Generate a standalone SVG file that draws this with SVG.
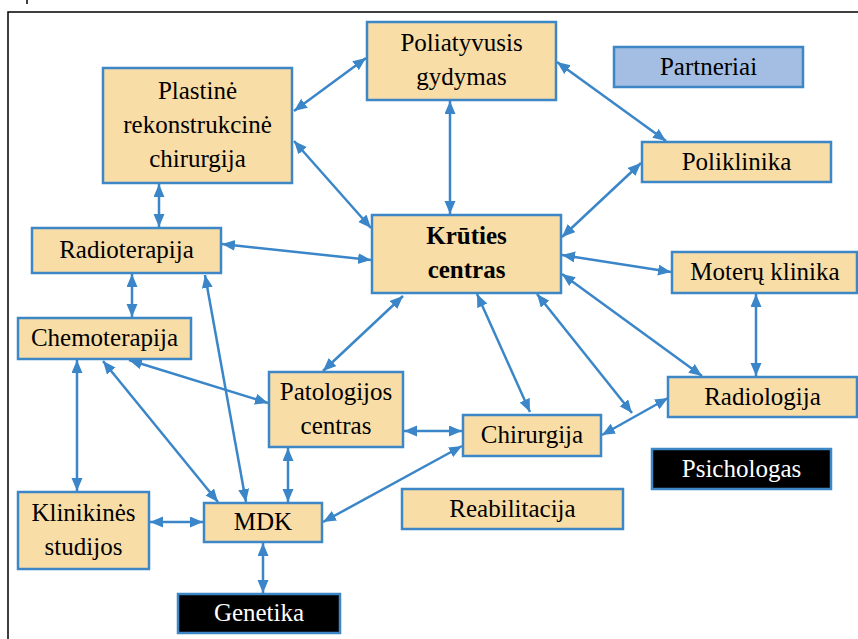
<svg xmlns="http://www.w3.org/2000/svg" width="858" height="639" viewBox="0 0 858 639">
<style>
.box{fill:#f9dda6;stroke:#3d87c7;stroke-width:2.5}
.blue{fill:#a3bde3;stroke:#3d87c7;stroke-width:2.5}
.dark{fill:#000;stroke:#3d87c7;stroke-width:2.5}
</style>
<defs>
<marker id="ah" markerUnits="userSpaceOnUse" markerWidth="14" markerHeight="12" refX="13" refY="5.5" orient="auto-start-reverse">
<path d="M0,0 L13,5.5 L0,11 Z" fill="#3a86c8"/>
</marker>
</defs>
<rect width="858" height="639" fill="#fff"/>
<path d="M8,639 L8,12 L858,12" fill="none" stroke="#000" stroke-width="1.5"/>
<line x1="27" y1="0" x2="27" y2="4" stroke="#000" stroke-width="1.5"/>
<g id="connectors" stroke="#3a86c8" stroke-width="2.5" marker-start="url(#ah)" marker-end="url(#ah)">
<line x1="294" y1="111" x2="366" y2="58"/>
<line x1="294" y1="141" x2="371" y2="228"/>
<line x1="159" y1="184" x2="159" y2="227"/>
<line x1="222" y1="244" x2="371" y2="260"/>
<line x1="132" y1="274" x2="132" y2="317"/>
<line x1="205" y1="275" x2="246" y2="502"/>
<line x1="450" y1="101" x2="450" y2="214"/>
<line x1="557" y1="62" x2="666" y2="141"/>
<line x1="641" y1="163" x2="562" y2="237"/>
<line x1="562" y1="255" x2="671" y2="272"/>
<line x1="562" y1="274" x2="702" y2="376"/>
<line x1="477" y1="294" x2="530" y2="412"/>
<line x1="537" y1="294" x2="632" y2="413"/>
<line x1="602" y1="435" x2="668" y2="398"/>
<line x1="756" y1="294" x2="756" y2="376"/>
<line x1="403" y1="296" x2="323" y2="371"/>
<line x1="129" y1="360" x2="268" y2="403"/>
<line x1="103" y1="361" x2="218" y2="502"/>
<line x1="77" y1="360" x2="77" y2="491"/>
<line x1="150" y1="522" x2="203" y2="522"/>
<line x1="288" y1="448" x2="288" y2="502"/>
<line x1="263" y1="543" x2="263" y2="593"/>
<line x1="462" y1="446" x2="323" y2="522"/>
<line x1="404" y1="431" x2="462" y2="431"/>
</g>
<g id="nodes" font-family="Liberation Serif, Times New Roman, serif" font-size="25" text-anchor="middle">
<g id="plastine"><rect class="box" x="103" y="68" width="189" height="115"/><text font-family="Liberation Serif" x="197.5" y="98.5">Plastin&#279;</text><text font-family="Liberation Serif" x="197.5" y="132.5">rekonstrukcin&#279;</text><text font-family="Liberation Serif" x="197.5" y="166.5">chirurgija</text></g>
<g id="poliatyvusis"><rect class="box" x="367" y="22" width="189" height="78"/><text font-family="Liberation Serif" x="461.5" y="51">Poliatyvusis</text><text font-family="Liberation Serif" x="461.5" y="85">gydymas</text></g>
<g id="partneriai"><rect class="blue" x="614" y="47" width="189" height="40"/><text font-family="Liberation Serif" x="708.5" y="75">Partneriai</text></g>
<g id="poliklinika"><rect class="box" x="642" y="142" width="189" height="40"/><text font-family="Liberation Serif" x="736.5" y="170">Poliklinika</text></g>
<g id="kruties"><rect class="box" x="372" y="215" width="189" height="78"/><text font-family="Liberation Serif" font-weight="bold" x="466.5" y="244">Kr&#363;ties</text><text font-family="Liberation Serif" font-weight="bold" x="466.5" y="278">centras</text></g>
<g id="moteru"><rect class="box" x="672" y="252" width="185" height="41"/><text font-family="Liberation Serif" x="765" y="280">Moter&#371; klinika</text></g>
<g id="radioterapija"><rect class="box" x="32" y="228" width="189" height="45"/><text font-family="Liberation Serif" x="126.5" y="258">Radioterapija</text></g>
<g id="chemoterapija"><rect class="box" x="18" y="318" width="173" height="41"/><text font-family="Liberation Serif" x="104.5" y="346">Chemoterapija</text></g>
<g id="patologijos"><rect class="box" x="269" y="372" width="134" height="75"/><text font-family="Liberation Serif" x="336" y="400">Patologijos</text><text font-family="Liberation Serif" x="336" y="434">centras</text></g>
<g id="chirurgija"><rect class="box" x="463" y="415" width="138" height="41"/><text font-family="Liberation Serif" x="532" y="443">Chirurgija</text></g>
<g id="radiologija"><rect class="box" x="668" y="377" width="189" height="40"/><text font-family="Liberation Serif" x="762.5" y="405">Radiologija</text></g>
<g id="psichologas"><rect class="dark" x="652" y="449" width="179" height="40"/><text font-family="Liberation Serif" fill="#fff" x="741.5" y="477">Psichologas</text></g>
<g id="reabilitacija"><rect class="box" x="402" y="489" width="221" height="40"/><text font-family="Liberation Serif" x="512.5" y="517">Reabilitacija</text></g>
<g id="klinikines"><rect class="box" x="18" y="492" width="131" height="77"/><text font-family="Liberation Serif" x="83.5" y="521">Klinikin&#279;s</text><text font-family="Liberation Serif" x="83.5" y="555">studijos</text></g>
<g id="mdk"><rect class="box" x="204" y="503" width="118" height="39"/><text font-family="Liberation Serif" x="263" y="530">MDK</text></g>
<g id="genetika"><rect class="dark" x="178" y="594" width="162" height="39"/><text font-family="Liberation Serif" fill="#fff" x="259" y="621">Genetika</text></g>
</g>
</svg>
